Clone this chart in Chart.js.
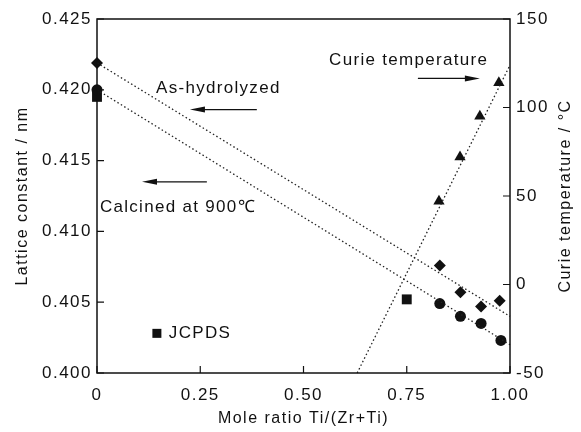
<!DOCTYPE html>
<html>
<head>
<meta charset="utf-8">
<script src="https://cdn.jsdelivr.net/npm/chart.js@4.4.1/dist/chart.umd.min.js"></script>
<style>
  html, body { margin: 0; padding: 0; background: #fff; }
  #c { display: block; }
</style>
</head>
<body>
<canvas id="c" width="581" height="432"></canvas>
<script>
// lattice constant, as-hydrolyzed (diamonds)
var hydX = [0, 0.83, 0.88, 0.93, 0.975];
var hydY = [0.4219, 0.4076, 0.4057, 0.4047, 0.4051];
// lattice constant, calcined at 900C (circles)
var calX = [0, 0.83, 0.88, 0.93, 0.978];
var calY = [0.4200, 0.4049, 0.4040, 0.4035, 0.4023];
// JCPDS values (squares)
var jcpX = [0, 0.75];
var jcpY = [0.4195, 0.4052];
// Curie temperature, right axis (triangles)
var curX = [0.828, 0.879, 0.927, 0.973];
var curY = [47, 72, 95, 114];
// dotted guide lines
var hydFitX = [0, 1];
var hydFitY = [0.4219, 0.4040];
var calFitX = [0, 1];
var calFitY = [0.4200, 0.4020];
var curFitX = [0.63, 1];
var curFitY = [-50, 124];

var xTickLabels = ['0', '0.25', '0.50', '0.75', '1.00'];
var rightTitle = 'Curie temperature / \u00B0C';

// text notes / arrows, placed in data units of x and left y axis
var notes = [
  {text: 'As-hydrolyzed', x: 0.143, y: 0.4201},
  {text: 'Calcined at 900\u2103', x: 0.007, y: 0.4117},
  {text: 'Curie temperature', x: 0.562, y: 0.4221},
  {text: 'JCPDS', x: 0.174, y: 0.4028}
];
var arrows = [
  {from: 0.387, to: 0.225, y: 0.4186},
  {from: 0.266, to: 0.109, y: 0.4135},
  {from: 0.777, to: 0.927, y: 0.4208}
];
var keyMark = {x: 0.145, y: 0.4028};

function pts(xs, ys) {
  var out = [];
  for (var i = 0; i < xs.length; i++) out.push({x: xs[i], y: ys[i]});
  return out;
}

var ink = '#111';
var FONT = "'Liberation Sans', Arial, sans-serif";

var framePlugin = {
  id: 'frame',
  beforeDraw: function (chart) {
    chart.ctx.letterSpacing = '1.5px';
  },
  afterDraw: function (chart) {
    var ctx = chart.ctx, a = chart.chartArea;
    var sx = chart.scales.x, sy = chart.scales.y, sy2 = chart.scales.y2;
    ctx.save();
    ctx.strokeStyle = ink;
    ctx.lineWidth = 1.5;
    ctx.strokeRect(a.left, a.top, a.right - a.left, a.bottom - a.top);
    // inward ticks
    ctx.lineWidth = 1.2;
    ctx.beginPath();
    sy.ticks.forEach(function (t) {
      var p = sy.getPixelForValue(t.value);
      ctx.moveTo(a.left, p); ctx.lineTo(a.left + 7, p);
    });
    sy2.ticks.forEach(function (t) {
      var p = sy2.getPixelForValue(t.value);
      ctx.moveTo(a.right, p); ctx.lineTo(a.right - 7, p);
    });
    sx.ticks.forEach(function (t) {
      var p = sx.getPixelForValue(t.value);
      ctx.moveTo(p, a.bottom); ctx.lineTo(p, a.bottom - 7);
    });
    ctx.stroke();

    ctx.fillStyle = ink;

    // right axis title, reading bottom to top
    ctx.save();
    ctx.font = '16px ' + FONT;
    ctx.letterSpacing = '1.5px';
    ctx.textAlign = 'center';
    ctx.textBaseline = 'middle';
    ctx.translate(sy2.right - 15, (a.top + a.bottom) / 2);
    ctx.rotate(-Math.PI / 2);
    ctx.fillText(rightTitle, 0, 0);
    ctx.restore();

    // notes
    ctx.font = '17px ' + FONT;
    ctx.letterSpacing = '1.3px';
    ctx.textBaseline = 'middle';
    ctx.textAlign = 'left';
    notes.forEach(function (n) {
      ctx.fillText(n.text, sx.getPixelForValue(n.x), sy.getPixelForValue(n.y));
    });

    // arrows
    ctx.lineWidth = 1.2;
    arrows.forEach(function (ar) {
      var x1 = sx.getPixelForValue(ar.from), x2 = sx.getPixelForValue(ar.to);
      var y = sy.getPixelForValue(ar.y);
      var dir = x2 > x1 ? 1 : -1;
      ctx.beginPath();
      ctx.moveTo(x1, y); ctx.lineTo(x2 - dir * 10, y);
      ctx.stroke();
      ctx.beginPath();
      ctx.moveTo(x2, y);
      ctx.lineTo(x2 - dir * 15, y - 3);
      ctx.lineTo(x2 - dir * 15, y + 3);
      ctx.closePath();
      ctx.fill();
    });

    // JCPDS key square
    var kx = sx.getPixelForValue(keyMark.x), ky = sy.getPixelForValue(keyMark.y);
    ctx.fillRect(kx - 4.5, ky - 4.5, 9, 9);
    ctx.restore();
  }
};

var dotted = {
  showLine: true, pointRadius: 0, borderColor: '#222', borderWidth: 1.3,
  borderDash: [1.5, 2.5], fill: false, clip: false
};
function mark(style, r) {
  return {
    pointStyle: style, pointRadius: r, pointHoverRadius: r,
    backgroundColor: ink, borderColor: ink, borderWidth: 0, showLine: false, clip: false
  };
}

new Chart(document.getElementById('c'), {
  type: 'scatter',
  data: {
    datasets: [
      Object.assign({label: 'hyd fit', data: pts(hydFitX, hydFitY), yAxisID: 'y'}, dotted),
      Object.assign({label: 'cal fit', data: pts(calFitX, calFitY), yAxisID: 'y'}, dotted),
      Object.assign({label: 'Curie fit', data: pts(curFitX, curFitY), yAxisID: 'y2'}, dotted),
      Object.assign({label: 'Calcined', data: pts(calX, calY), yAxisID: 'y'}, mark('circle', 5.5)),
      Object.assign({label: 'As-hydrolyzed', data: pts(hydX, hydY), yAxisID: 'y'}, mark('rectRot', 6)),
      Object.assign({label: 'JCPDS', data: pts(jcpX, jcpY), yAxisID: 'y'}, mark('rect', 7)),
      Object.assign({label: 'Curie', data: pts(curX, curY), yAxisID: 'y2'}, mark('triangle', 6.5))
    ]
  },
  options: {
    responsive: false,
    animation: false,
    devicePixelRatio: 1,
    layout: {padding: {top: 19, left: 0, right: 0, bottom: 0}},
    plugins: {legend: {display: false}, tooltip: {enabled: false}},
    events: [],
    scales: {
      x: {
        type: 'linear', min: 0, max: 1,
        grid: {display: false, drawTicks: false},
        border: {display: false},
        ticks: {
          stepSize: 0.25, autoSkip: false, maxRotation: 0, padding: 12, color: ink,
          font: {family: FONT, size: 17},
          callback: function (v) { return xTickLabels[Math.round(v / 0.25)]; }
        },
        title: {display: true, text: 'Mole ratio Ti/(Zr+Ti)', color: ink,
          font: {family: FONT, size: 16}, padding: {top: 0, bottom: 4}},
        afterFit: function (s) { s.height = 59; }
      },
      y: {
        type: 'linear', position: 'left', min: 0.4, max: 0.425,
        grid: {display: false, drawTicks: false},
        border: {display: false},
        ticks: {
          stepSize: 0.005, padding: 5, color: ink,
          font: {family: FONT, size: 17},
          callback: function (v) { return v.toFixed(3); }
        },
        title: {display: true, text: 'Lattice constant / nm', color: ink,
          font: {family: FONT, size: 16}, padding: {top: 13, bottom: 0}},
        afterFit: function (s) { s.width = 97; }
      },
      y2: {
        type: 'linear', position: 'right', min: -50, max: 150,
        grid: {display: false, drawTicks: false},
        border: {display: false},
        ticks: {
          stepSize: 50, padding: 6, color: ink,
          font: {family: FONT, size: 17}
        },
        title: {display: false},
        afterFit: function (s) { s.width = 71; }
      }
    }
  },
  plugins: [framePlugin]
});
</script>
</body>
</html>
